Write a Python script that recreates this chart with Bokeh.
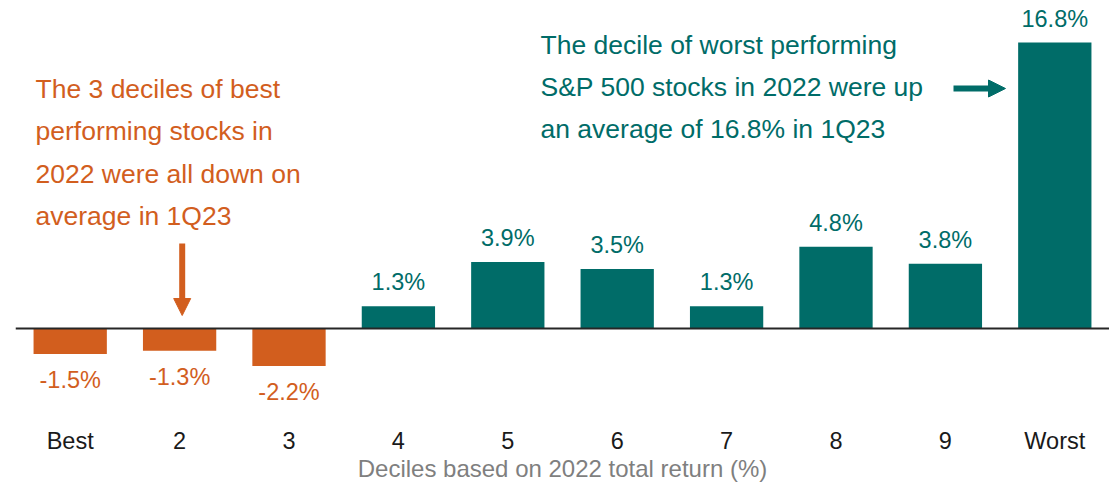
from bokeh.plotting import figure
from bokeh.models import FactorRange, Range1d, Span, Label, Arrow, NormalHead, ColumnDataSource
from bokeh.core.properties import value
from bokeh.embed import file_html
from bokeh.resources import INLINE

categories = ["Best", "2", "3", "4", "5", "6", "7", "8", "9", "Worst"]
values = [-1.5, -1.3, -2.2, 1.3, 3.9, 3.5, 1.3, 4.8, 3.8, 16.8]

ORANGE = "#D25E1E"
TEAL = "#006C68"
FONT = "Liberation Sans"

colors = [ORANGE if v < 0 else TEAL for v in values]
labels = [f"{v:.1f}%" for v in values]
offsets = [26 if v < 0 else -24 for v in values]

src = ColumnDataSource(dict(cat=categories, val=values, color=colors, label=labels, off=offsets))

p = figure(x_range=FactorRange(*categories, range_padding=0), y_range=Range1d(-5.405, 18.8),
           frame_width=1094, frame_height=412, output_backend="svg", toolbar_location=None,
           min_border_left=15, min_border_right=0, min_border_top=8, outline_line_color=None)

p.vbar(x="cat", top="val", bottom=0, width=0.67, fill_color="color", line_color=None, source=src)
p.add_layout(Span(location=0, dimension="width", line_color="#262626", line_width=2))

p.text(x="cat", y="val", text="label", y_offset="off", text_color="color", source=src,
       text_align="center", text_baseline="middle", text_font=value(FONT), text_font_size=value("23.5px"))

p.yaxis.visible = False
p.grid.visible = False
ax = p.xaxis[0]
ax.axis_line_color = None
ax.major_tick_line_color = None
ax.minor_tick_line_color = None
ax.major_label_text_font = FONT
ax.major_label_text_font_size = "23.5px"
ax.major_label_text_color = "#1a1a1a"
ax.major_label_standoff = 1
ax.axis_label = "Deciles based on 2022 total return (%)"
ax.axis_label_text_font = FONT
ax.axis_label_text_font_size = "24px"
ax.axis_label_text_font_style = "normal"
ax.axis_label_text_color = "#7f7f7f"
ax.axis_label_standoff = -2

left_lines = ["The 3 deciles of best", "performing stocks in", "2022 were all down on", "average in 1Q23"]
for i, t in enumerate(left_lines):
    p.add_layout(Label(x=20, y=332 - i * 42.5, x_units="screen", y_units="screen", text=t,
                       text_font=FONT, text_font_size="26.5px", text_color=ORANGE, text_baseline="middle"))

right_lines = ["The decile of worst performing", "S&P 500 stocks in 2022 were up", "an average of 16.8% in 1Q23"]
for i, t in enumerate(right_lines):
    p.add_layout(Label(x=525, y=376 - i * 42, x_units="screen", y_units="screen", text=t,
                       text_font=FONT, text_font_size="26.5px", text_color=TEAL, text_baseline="middle"))

p.add_layout(Arrow(end=NormalHead(size=17, fill_color=ORANGE, line_color=ORANGE),
                   x_start=166.7, y_start=177, x_end=166.7, y_end=105,
                   start_units="screen", end_units="screen", line_color=ORANGE, line_width=6))
p.add_layout(Arrow(end=NormalHead(size=17, fill_color=TEAL, line_color=TEAL),
                   x_start=938, y_start=332, x_end=990, y_end=332,
                   start_units="screen", end_units="screen", line_color=TEAL, line_width=6))

open("out.html", "w").write(file_html(p, INLINE))
